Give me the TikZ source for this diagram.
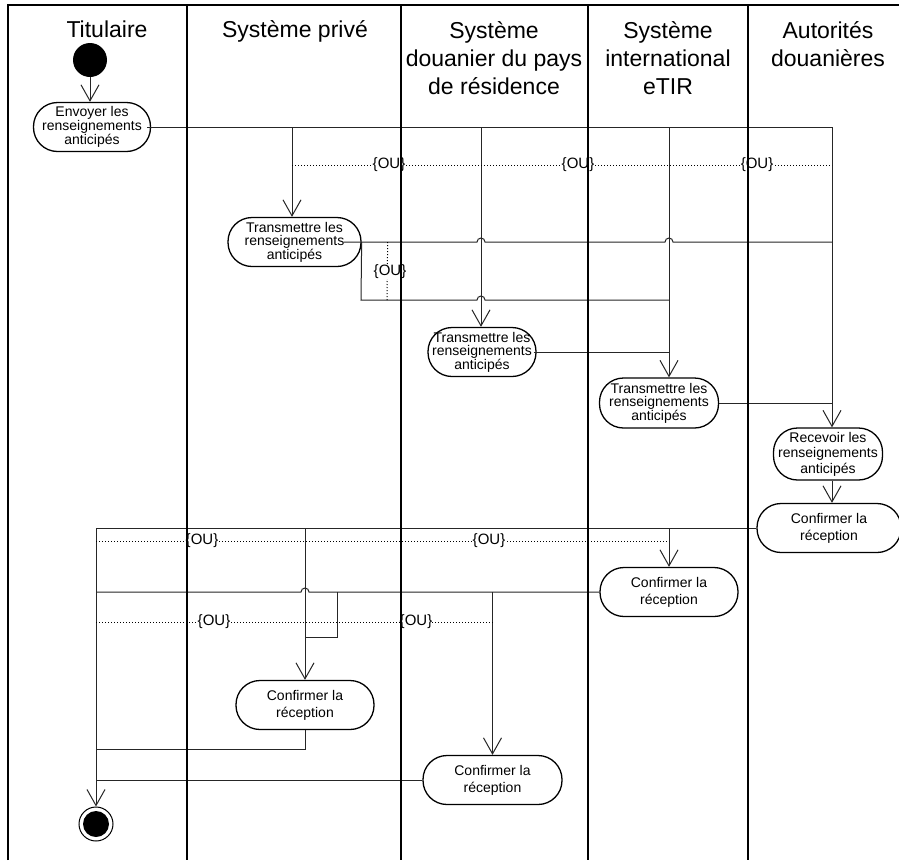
\documentclass[tikz,border=0pt]{standalone}
\usepackage{fontspec}
\setmainfont{Liberation Sans}
\usetikzlibrary{arrows.meta}

\begin{document}
\begin{tikzpicture}[x=1pt, y=-1pt,
  lane/.style={line width=1.8pt, draw=black},
  head/.style={anchor=base, align=center, font=\fontsize{23}{28}\selectfont},
  act/.style={draw=black, line width=1.3pt, fill=white, rounded corners=24pt,
    inner sep=0pt, align=center, minimum height=49pt,
    font=\fontsize{14}{13.5}\selectfont},
  conf/.style={act, font=\fontsize{14}{17}\selectfont},
  startpt/.style={circle, fill=black, minimum size=34pt, inner sep=0pt},
  endpt/.style={circle, draw=black, line width=1pt, minimum size=34pt, inner sep=0pt,
    path picture={\fill[black] (path picture bounding box.center) circle (13pt);}},
  flow/.style={draw=black!85, line width=1pt},
  arr/.style={flow, -{Straight Barb[length=16pt, width=18pt]}},
  orline/.style={draw=black, line width=1pt, dash pattern=on 1pt off 2pt},
  ou/.style={fill=white, inner sep=0pt, font=\fontsize{15}{15}\selectfont}]

  % Hintergrund und Rahmen (899 x 860)
  \useasboundingbox (0,0) rectangle (899,860);
  \fill[white] (0,0) rectangle (899,860);

  % Kopfzeilen der Bahnen (Basislinie = letzte Zeile)
  \node[head] at (107,37) {Titulaire};
  \node[head] at (295,37) {Système privé};
  \node[head] at (494,94) {Système\\douanier du pays\\de résidence};
  \node[head] at (668,94) {Système\\international\\eTIR};
  \node[head] at (828,66) {Autorités\\douanières};

  % Start- und Endknoten
  \node[startpt] (start) at (90,60) {};
  \node[endpt] (fin) at (96,824) {};

  % Aktivitaeten
  \node[act, minimum width=117pt, font=\fontsize{14}{12.5}\selectfont] (n1) at (92,127)
    {Envoyer les\\renseignements\\anticipés};
  \node[act, minimum width=133pt] (n2) at (294.5,242) {Transmettre les\\renseignements\\anticipés};
  \node[act, minimum width=108pt] (n3) at (482,352) {Transmettre les\\renseignements\\anticipés};
  \node[act, minimum width=119pt, minimum height=50pt] (n4) at (659,403)
    {Transmettre les\\renseignements\\anticipés};
  \node[act, minimum width=109pt, minimum height=52pt, font=\fontsize{14}{15.5}\selectfont] (n5) at (828,454)
    {Recevoir les\\renseignements\\anticipés};
  \node[conf, minimum width=144pt] (n6) at (829,528) {Confirmer la\\réception};
  \node[conf, minimum width=138pt] (n7) at (669,592) {Confirmer la\\réception};
  \node[conf, minimum width=138pt] (n8) at (305,705) {Confirmer la\\réception};
  \node[conf, minimum width=139pt] (n9) at (492.5,780) {Confirmer la\\réception};

  % Verzweigungspunkte
  \coordinate (a1) at (292,127);
  \coordinate (a2) at (481,127);
  \coordinate (a3) at (669,127);
  \coordinate (a4) at (832,127);
  \coordinate (b1) at (361,300);
  \coordinate (c1) at (fin |- n6.west);
  \coordinate (c2) at (n8 |- n6.west);
  \coordinate (c3) at (n7 |- n6.west);
  \coordinate (d1) at (337,592);
  \coordinate (d2) at (n9 |- n7.west);
  \coordinate (d3) at (337,637);
  \coordinate (e1) at (305,749);

  % Senden an alle Systeme
  \draw[arr] (start) -- (start |- n1.north);
  \draw[flow] ([xshift=-4pt]n1.east) -- (a4);
  \draw[arr] (a1) -- (a1 |- n2.north);
  \draw[arr] (a2) -- (a2 |- n3.north);
  \draw[arr] (a3) -- (a3 |- n4.north);
  \draw[arr] (a4) -- (a4 |- n5.north);
  \draw[orline] ([yshift=-38pt]a1) -- ([yshift=-38pt]a4);
  \node[ou] at (389,165) {\{OU\}};
  \node[ou] at (578,165) {\{OU\}};
  \node[ou] at (757,165) {\{OU\}};

  % Weiterleitung durch das private System
  \draw[flow] ([xshift=-18pt]n2.east) -- ([xshift=-4pt]a2 |- n2.east)
    arc[start angle=180, end angle=0, radius=4pt] -- ([xshift=-4pt]a3 |- n2.east)
    arc[start angle=180, end angle=0, radius=4pt] -- (a4 |- n2.east);
  \draw[flow] (n2.east) -- (b1) -- ([xshift=-4pt]a2 |- b1)
    arc[start angle=180, end angle=0, radius=4pt] -- (a3 |- b1);
  \draw[orline] ([xshift=26pt]n2.east) -- ([xshift=26pt]b1);
  \node[ou] at (390,272) {\{OU\}};

  % Weiterleitung durch die Systeme
  \draw[flow] ([xshift=-3pt]n3.east) -- (a3 |- n3.east);
  \draw[flow] (n4.east) -- (a4 |- n4.east);
  \draw[arr] (a4 |- n5.south) -- (a4 |- n6.north);

  % Bestaetigungen
  \draw[flow] (n6.west) -- (c1);
  \draw[arr] (c1) -- (fin.north);
  \draw[arr] (c2) -- (n8.north);
  \draw[arr] (c3) -- (n7.north);
  \draw[orline] ([yshift=-13pt]c1) -- ([yshift=-13pt]c3);
  \node[ou] at (202,541) {\{OU\}};
  \node[ou] at (489,541) {\{OU\}};

  \draw[flow] (n7.west) -- ([xshift=4pt]c2 |- n7.west)
    arc[start angle=0, end angle=180, radius=4pt] -- (fin |- n7.west);
  \draw[arr] (d2) -- (n9.north);
  \draw[flow] (d1) -- (d3) -- (n8 |- d3);
  \draw[orline] ([yshift=-30pt]c1 |- n7.west) -- ([yshift=-30pt]d2);
  \node[ou] at (214,622) {\{OU\}};
  \node[ou] at (416,622) {\{OU\}};

  \draw[flow] (n8.south) -- (e1) -- (fin |- e1);
  \draw[flow] (n9.west) -- (fin |- n9.west);

  % Bahnen (zuletzt gezeichnet)
  \draw[lane] (8,860) -- (8,5) -- (899,5);
  \foreach \lx in {187,401,588,748}
    \draw[lane] (\lx,5) -- (\lx,860);

\end{tikzpicture}
\end{document}
